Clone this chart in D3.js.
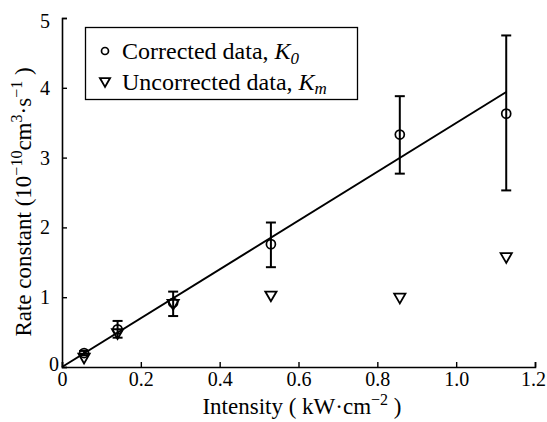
<!DOCTYPE html>
<html>
<head>
<meta charset="utf-8">
<script src="https://cdn.jsdelivr.net/npm/d3@7"></script>
<style>
  body { margin: 0; background: #fff; }
</style>
</head>
<body>
<div id="chart"></div>
<script>
// values
var intensity = [0.056, 0.141, 0.282, 0.53, 0.857, 1.127];
var corrected = [0.20, 0.54, 0.92, 1.76, 3.33, 3.63];
var errLow = [0.17, 0.42, 0.73, 1.43, 2.77, 2.53];
var errHigh = [0.23, 0.66, 1.08, 2.07, 3.88, 4.75];
var uncorrected = [0.13, 0.48, 0.90, 1.02, 0.99, 1.57];
var fitX = [0, 1.127];
var fitY = [0, 3.94];
var xTicks = [0, 0.2, 0.4, 0.6, 0.8, 1.0, 1.2];
var xTickLabels = ["0", "0.2", "0.4", "0.6", "0.8", "1.0", "1.2"];
var yTicks = [0, 1, 2, 3, 4, 5];

var serif = "'Liberation Serif'";
var width = 547, height = 422;
var margin = {top: 18, left: 62, right: 12, bottom: 55};

var svg = d3.select("#chart").append("svg")
    .attr("width", width)
    .attr("height", height)
    .attr("font-family", serif);

var x = d3.scaleLinear().domain([0, 1.2]).range([margin.left, width - margin.right]);
var y = d3.scaleLinear().domain([0, 5]).range([height - margin.bottom, margin.top]);

// axes, ticks pointing inward
var xAxis = svg.append("g")
    .attr("transform", "translate(0," + y(0) + ")")
    .call(d3.axisBottom(x).tickValues(xTicks).tickSize(-5).tickPadding(5)
      .tickFormat(function(d, i) { return xTickLabels[i]; }));
var yAxis = svg.append("g")
    .attr("transform", "translate(" + x(0) + ",0)")
    .call(d3.axisLeft(y).tickValues(yTicks).tickSize(-5).tickPadding(12).tickFormat(d3.format("d")));

[xAxis, yAxis].forEach(function(ax) {
  ax.attr("font-family", serif).attr("font-size", 20);
  ax.select(".domain").attr("stroke", "#000").attr("stroke-width", 1.6);
  ax.selectAll(".tick line").attr("stroke", "#000").attr("stroke-width", 1.4);
  ax.selectAll(".tick text").attr("fill", "#000").attr("font-family", serif);
});
// last x label is pushed in to stay on the page
xAxis.selectAll(".tick text").filter(function(d) { return d === 1.2; }).attr("x", -2);
// the y "0" sits tucked into the corner
yAxis.selectAll(".tick text").filter(function(d) { return d === 0; }).attr("x", -3).attr("dy", "0.15em");
yAxis.selectAll(".tick text").filter(function(d) { return d === 5; }).attr("dy", "0.45em");

// fit line
svg.append("line")
    .attr("x1", x(fitX[0])).attr("y1", y(fitY[0]))
    .attr("x2", x(fitX[1])).attr("y2", y(fitY[1]))
    .attr("stroke", "#000").attr("stroke-width", 2);

// error bars
var cap = 5;
var bars = svg.append("g").attr("stroke", "#000").attr("stroke-width", 2);
intensity.forEach(function(d, i) {
  bars.append("line").attr("x1", x(d)).attr("x2", x(d)).attr("y1", y(errLow[i])).attr("y2", y(errHigh[i]));
  bars.append("line").attr("x1", x(d) - cap).attr("x2", x(d) + cap).attr("y1", y(errLow[i])).attr("y2", y(errLow[i]));
  bars.append("line").attr("x1", x(d) - cap).attr("x2", x(d) + cap).attr("y1", y(errHigh[i])).attr("y2", y(errHigh[i]));
});

// markers
var tri = d3.symbol().type(d3.symbolTriangle).size(55);
svg.append("g").selectAll("path")
    .data(uncorrected)
    .join("path")
    .attr("d", tri)
    .attr("transform", function(d, i) { return "translate(" + x(intensity[i]) + "," + (y(d) - 1) + ") rotate(180)"; })
    .attr("fill", "none").attr("stroke", "#000").attr("stroke-width", 1.8);

svg.append("g").selectAll("circle")
    .data(corrected)
    .join("circle")
    .attr("cx", function(d, i) { return x(intensity[i]); })
    .attr("cy", function(d) { return y(d); })
    .attr("r", 4.5)
    .attr("fill", "none").attr("stroke", "#000").attr("stroke-width", 1.7);

// legend
var lg = svg.append("g").attr("font-size", 24);
lg.append("rect").attr("x", 85.5).attr("y", 27.5).attr("width", 272).attr("height", 72)
  .attr("fill", "#fff").attr("stroke", "#000").attr("stroke-width", 1.3);
lg.append("circle").attr("cx", 105).attr("cy", 51).attr("r", 3.5)
  .attr("fill", "none").attr("stroke", "#000").attr("stroke-width", 1.7);
lg.append("path").attr("d", d3.symbol().type(d3.symbolTriangle).size(45))
  .attr("transform", "translate(105,81) rotate(180)")
  .attr("fill", "none").attr("stroke", "#000").attr("stroke-width", 1.8);

var t1 = lg.append("text").attr("x", 122).attr("y", 59).attr("font-family", serif);
t1.append("tspan").text("Corrected data, ");
t1.append("tspan").attr("font-style", "italic").text("K");
t1.append("tspan").attr("font-style", "italic").attr("font-size", 17).attr("dy", 5).text("0");

var t2 = lg.append("text").attr("x", 122).attr("y", 90).attr("font-family", serif);
t2.append("tspan").text("Uncorrected data, ");
t2.append("tspan").attr("font-style", "italic").text("K");
t2.append("tspan").attr("font-style", "italic").attr("font-size", 17).attr("dy", 4).text("m");

// x label
var xl = svg.append("text").attr("x", 302).attr("y", 414).attr("text-anchor", "middle")
    .attr("font-size", 23).attr("font-family", serif);
xl.append("tspan").text("Intensity ( kW\u00b7cm");
xl.append("tspan").attr("font-size", 16).attr("dy", -9).text("\u22122");
xl.append("tspan").attr("dy", 9).text(" )");

// y label
var yl = svg.append("text").attr("transform", "translate(31," + 202 + ") rotate(-90)")
    .attr("text-anchor", "middle").attr("font-size", 23).attr("font-family", serif);
yl.append("tspan").text("Rate constant (10");
yl.append("tspan").attr("font-size", 16).attr("dy", -9).text("\u221210");
yl.append("tspan").attr("dy", 9).text("cm");
yl.append("tspan").attr("font-size", 16).attr("dy", -9).text("3");
yl.append("tspan").attr("dy", 9).text("\u00b7s");
yl.append("tspan").attr("font-size", 16).attr("dy", -9).text("\u22121");
yl.append("tspan").attr("dy", 9).text(" )");
</script>
</body>
</html>
